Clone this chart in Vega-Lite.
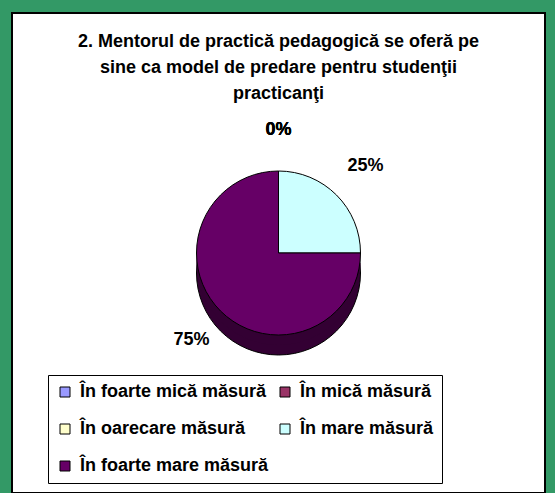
{
  "$schema": "https://vega.github.io/schema/vega-lite/v6.json",
  "autosize": {"type": "fit", "contains": "padding"},
  "width": 555,
  "height": 493,
  "padding": {"left": 12, "top": 13, "right": 10, "bottom": 0},
  "background": "#339966",
  "view": {"fill": "white", "stroke": "black", "strokeWidth": 2},
  "title": {
    "text": ["2. Mentorul de practică pedagogică se oferă  pe", "sine ca model de predare pentru studenţii", "practicanţi"],
    "font": "Liberation Sans",
    "fontSize": 18,
    "fontWeight": "bold",
    "lineHeight": 26,
    "color": "black",
    "anchor": "middle",
    "frame": "group",
    "baseline": "top",
    "offset": -90
  },
  "data": {
    "values": [
      {"Categorie": "În foarte mică  măsură", "Procent": 0, "Ordine": 1},
      {"Categorie": "În mică măsură", "Procent": 0, "Ordine": 2},
      {"Categorie": "În oarecare măsură", "Procent": 0, "Ordine": 3},
      {"Categorie": "În mare măsură", "Procent": 0.25, "Ordine": 4},
      {"Categorie": "În  foarte mare măsură", "Procent": 0.75, "Ordine": 5}
    ]
  },
  "layer": [
    {
      "mark": {"type": "arc", "outerRadius": 82, "yOffset": 20, "stroke": "black", "strokeWidth": 1},
      "encoding": {
        "theta": {"field": "Procent", "type": "quantitative", "stack": true},
        "order": {"field": "Ordine", "type": "quantitative"},
        "color": {"field": "Categorie", "type": "nominal", "legend": null,
          "scale": {"domain": ["În foarte mică  măsură", "În mică măsură", "În oarecare măsură", "În mare măsură", "În  foarte mare măsură"],
                    "range": ["#4d4d80", "#4d1a33", "#808066", "#668080", "#330033"]}}
      }
    },
    {
      "mark": {"type": "arc", "outerRadius": 82, "yOffset": 10},
      "encoding": {
        "theta": {"field": "Procent", "type": "quantitative", "stack": true},
        "order": {"field": "Ordine", "type": "quantitative"},
        "color": {"field": "Categorie", "type": "nominal", "legend": null,
          "scale": {"domain": ["În foarte mică  măsură", "În mică măsură", "În oarecare măsură", "În mare măsură", "În  foarte mare măsură"],
                    "range": ["#4d4d80", "#4d1a33", "#808066", "#668080", "#330033"]}}
      }
    },
    {
      "mark": {"type": "arc", "outerRadius": 82, "stroke": "black", "strokeWidth": 1},
      "encoding": {
        "theta": {"field": "Procent", "type": "quantitative", "stack": true},
        "order": {"field": "Ordine", "type": "quantitative"},
        "color": {"field": "Categorie", "type": "nominal",
          "scale": {"domain": ["În foarte mică  măsură", "În mică măsură", "În oarecare măsură", "În mare măsură", "În  foarte mare măsură"],
                    "range": ["#9999FF", "#993366", "#FFFFCC", "#CCFFFF", "#660066"]},
          "legend": {
            "title": null,
            "orient": "none",
            "legendX": 36,
            "legendY": 362,
            "columns": 2,
            "direction": "horizontal",
            "gridAlign": "all",
            "strokeColor": "black",
            "fillColor": "white",
            "padding": 8,
            "labelFont": "Liberation Sans",
            "labelFontSize": 18,
            "labelFontWeight": "bold",
            "labelColor": "black",
            "labelLimit": 300,
            "labelOffset": 6,
            "symbolType": "square",
            "symbolSize": 100,
            "symbolStrokeColor": "black",
            "symbolStrokeWidth": 1,
            "symbolOpacity": 1,
            "rowPadding": 19,
            "columnPadding": 2
          }}
      }
    },
    {
      "mark": {"type": "text", "radius": 123, "font": "Liberation Sans", "fontSize": 18, "fontWeight": "bold", "color": "black"},
      "encoding": {
        "theta": {"field": "Procent", "type": "quantitative", "stack": true},
        "order": {"field": "Ordine", "type": "quantitative"},
        "text": {"field": "Procent", "type": "quantitative", "format": ".0%"}
      }
    }
  ],
  "resolve": {"scale": {"color": "independent"}, "legend": {"color": "independent"}}
}
